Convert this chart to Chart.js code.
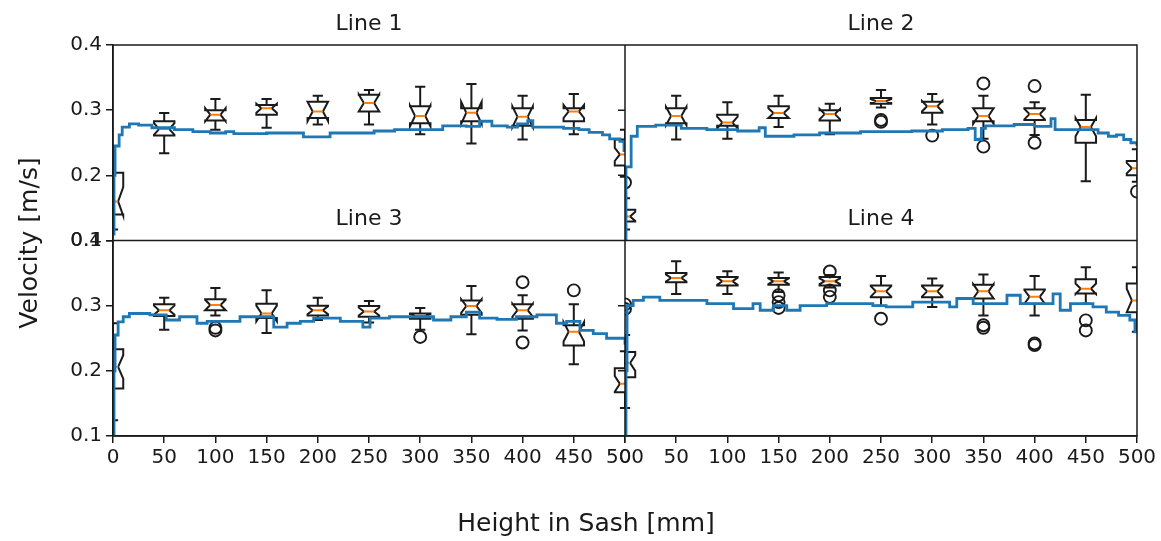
<!DOCTYPE html>
<html>
<head>
<meta charset="utf-8">
<script src="https://cdn.jsdelivr.net/npm/chart.js@4.4.1/dist/chart.umd.min.js"></script>
<style>
  html, body { margin: 0; padding: 0; background: #fff; }
</style>
</head>
<body>
<canvas id="chart" width="1161" height="541"></canvas>
<script>
// tick labels
const xTicks = [0, 50, 100, 150, 200, 250, 300, 350, 400, 450, 500];
const yTicks = [0.1, 0.2, 0.3, 0.4];

// box positions along the sash (mm)
const boxPos = [0, 50, 100, 150, 200, 250, 300, 350, 400, 450, 500];

// box stats per position: [whiskerLo, q1, notchLo, median, notchHi, q3, whiskerHi]
const line1Box = [
  [0.117, 0.140, 0.138, 0.160, 0.182, 0.204, 0.245],
  [0.234, 0.261, 0.262, 0.271, 0.280, 0.283, 0.2955],
  [0.270, 0.284, 0.283, 0.293, 0.303, 0.300, 0.317],
  [0.273, 0.293, 0.296, 0.303, 0.310, 0.308, 0.317],
  [0.278, 0.288, 0.283, 0.298, 0.313, 0.313, 0.322],
  [0.278, 0.298, 0.298, 0.311, 0.324, 0.3235, 0.331],
  [0.263, 0.280, 0.275, 0.291, 0.307, 0.306, 0.336],
  [0.249, 0.283, 0.279, 0.296, 0.313, 0.303, 0.340],
  [0.255, 0.276, 0.274, 0.290, 0.306, 0.303, 0.322],
  [0.263, 0.283, 0.288, 0.298, 0.308, 0.303, 0.325],
  [0.198, 0.215, 0.222, 0.232, 0.242, 0.255, 0.270]
];
const line2Box = [
  [0.117, 0.129, 0.130, 0.137, 0.144, 0.147, 0.165],
  [0.255, 0.280, 0.277, 0.291, 0.305, 0.303, 0.322],
  [0.256, 0.276, 0.272, 0.281, 0.290, 0.293, 0.312],
  [0.274, 0.288, 0.288, 0.2955, 0.303, 0.306, 0.322],
  [0.263, 0.284, 0.286, 0.294, 0.302, 0.300, 0.310],
  [0.304, 0.310, 0.311, 0.314, 0.317, 0.3185, 0.331],
  [0.278, 0.296, 0.298, 0.306, 0.314, 0.313, 0.325],
  [0.256, 0.283, 0.279, 0.291, 0.303, 0.303, 0.322],
  [0.262, 0.285, 0.286, 0.294, 0.302, 0.303, 0.312],
  [0.191, 0.250, 0.260, 0.274, 0.288, 0.285, 0.3235],
  [0.190, 0.200, 0.203, 0.211, 0.219, 0.222, 0.240]
];
const line3Box = [
  [0.124, 0.173, 0.188, 0.206, 0.224, 0.233, 0.273],
  [0.263, 0.284, 0.286, 0.293, 0.300, 0.302, 0.312],
  [0.285, 0.293, 0.293, 0.301, 0.309, 0.310, 0.327],
  [0.258, 0.281, 0.276, 0.288, 0.300, 0.303, 0.3235],
  [0.278, 0.285, 0.287, 0.293, 0.299, 0.300, 0.312],
  [0.274, 0.283, 0.285, 0.291, 0.297, 0.2995, 0.307],
  [0.263, 0.280, 0.281, 0.284, 0.287, 0.288, 0.2965],
  [0.256, 0.286, 0.289, 0.2995, 0.310, 0.308, 0.330],
  [0.262, 0.280, 0.283, 0.293, 0.303, 0.302, 0.316],
  [0.210, 0.239, 0.245, 0.260, 0.275, 0.270, 0.302],
  [0.143, 0.167, 0.168, 0.180, 0.192, 0.204, 0.230]
];
const line4Box = [
  [0.143, 0.190, 0.200, 0.212, 0.224, 0.229, 0.255],
  [0.318, 0.336, 0.337, 0.3425, 0.348, 0.350, 0.368],
  [0.318, 0.331, 0.332, 0.3375, 0.343, 0.344, 0.353],
  [0.321, 0.332, 0.333, 0.3375, 0.342, 0.3425, 0.351],
  [0.328, 0.331, 0.333, 0.3375, 0.342, 0.344, 0.347],
  [0.300, 0.313, 0.314, 0.322, 0.330, 0.331, 0.3455],
  [0.298, 0.313, 0.314, 0.322, 0.330, 0.331, 0.3415],
  [0.285, 0.311, 0.311, 0.322, 0.333, 0.332, 0.348],
  [0.285, 0.303, 0.303, 0.3135, 0.324, 0.325, 0.3455],
  [0.303, 0.3185, 0.318, 0.326, 0.334, 0.3405, 0.359],
  [0.260, 0.290, 0.290, 0.308, 0.326, 0.334, 0.359]
];

// fliers per position
const line1Out = [[], [], [], [], [], [], [], [], [], [], []];
const line2Out = [[0.189], [], [], [], [], [0.285, 0.282], [0.261], [0.341, 0.244], [0.337, 0.250], [], [0.175]];
const line3Out = [[], [], [0.266, 0.262], [], [], [], [0.252], [], [0.336, 0.2435], [0.3235], []];
const line4Out = [[0.302, 0.295], [], [], [0.316, 0.3055, 0.2965], [0.3525, 0.3235, 0.3135], [0.280], [], [0.270, 0.266], [0.242, 0.2395], [0.2775, 0.262], []];

// continuous velocity trace (step breakpoints)
const line1Pos = [0, 1, 2, 6, 9, 16, 25, 38, 60, 78, 95, 110, 118, 150, 186, 212, 255, 275, 322, 345, 358, 370, 385, 395, 405, 410, 440, 455, 465, 478, 485, 495, 499, 500];
const line1Vel = [0.11, 0.20, 0.245, 0.262, 0.274, 0.279, 0.277, 0.273, 0.270, 0.267, 0.265, 0.267, 0.264, 0.265, 0.259, 0.265, 0.268, 0.270, 0.276, 0.275, 0.283, 0.276, 0.274, 0.279, 0.284, 0.274, 0.272, 0.270, 0.266, 0.262, 0.256, 0.252, 0.238, 0.238];

const line2Pos = [0, 1, 6, 12, 30, 55, 80, 110, 131, 137, 165, 190, 230, 280, 310, 335, 342, 348, 352, 380, 400, 416, 420, 450, 462, 472, 480, 487, 494, 500];
const line2Vel = [0.10, 0.213, 0.26, 0.275, 0.277, 0.272, 0.270, 0.268, 0.273, 0.260, 0.262, 0.265, 0.267, 0.268, 0.270, 0.272, 0.255, 0.272, 0.276, 0.278, 0.275, 0.287, 0.270, 0.270, 0.265, 0.260, 0.262, 0.255, 0.250, 0.245];

const line3Pos = [0, 1, 2, 5, 10, 16, 36, 52, 65, 82, 92, 124, 157, 170, 183, 196, 222, 244, 251, 270, 313, 330, 345, 358, 375, 394, 414, 433, 443, 456, 469, 482, 492, 500];
const line3Vel = [0.10, 0.20, 0.255, 0.275, 0.283, 0.288, 0.286, 0.278, 0.283, 0.273, 0.276, 0.283, 0.267, 0.273, 0.276, 0.281, 0.276, 0.267, 0.281, 0.283, 0.278, 0.283, 0.290, 0.281, 0.279, 0.283, 0.286, 0.273, 0.276, 0.262, 0.257, 0.250, 0.250, 0.240];

const line4Pos = [0, 1, 2, 8, 18, 34, 80, 106, 125, 132, 145, 158, 171, 197, 242, 255, 281, 317, 324, 340, 373, 386, 418, 425, 435, 457, 470, 482, 493, 498, 500];
const line4Vel = [0.10, 0.20, 0.30, 0.308, 0.313, 0.308, 0.303, 0.2955, 0.303, 0.293, 0.300, 0.293, 0.300, 0.303, 0.300, 0.298, 0.3055, 0.298, 0.311, 0.303, 0.316, 0.303, 0.318, 0.293, 0.303, 0.298, 0.290, 0.285, 0.278, 0.260, 0.260];

const panels = [
  { title: 'Line 1', x: 'xL', y: 'yT', box: line1Box, out: line1Out, pos: line1Pos, vel: line1Vel },
  { title: 'Line 2', x: 'xR', y: 'yT', box: line2Box, out: line2Out, pos: line2Pos, vel: line2Vel },
  { title: 'Line 3', x: 'xL', y: 'yB', box: line3Box, out: line3Out, pos: line3Pos, vel: line3Vel },
  { title: 'Line 4', x: 'xR', y: 'yB', box: line4Box, out: line4Out, pos: line4Pos, vel: line4Vel }
];

const boxWidth = 20; // mm
const ink = '#1a1a1a';
const font = 'DejaVu Sans';
const tickFont = { family: font, size: 20 };

function panelClip(ctx, xs, ys) {
  ctx.save();
  ctx.beginPath();
  ctx.rect(xs.left, ys.top, xs.right - xs.left, ys.bottom - ys.top);
  ctx.clip();
}

function drawBox(ctx, xs, ys, pos, b, fliers) {
  const [lo, q1, nLo, med, nHi, q3, hi] = b;
  const cx = xs.getPixelForValue(pos);
  const half = xs.getPixelForValue(pos + boxWidth / 2) - cx;
  const L = cx - half, R = cx + half, cl = cx - half / 2, cr = cx + half / 2;
  const Y = v => ys.getPixelForValue(v);

  ctx.strokeStyle = ink;
  ctx.lineWidth = 2;
  ctx.lineJoin = 'miter';
  ctx.beginPath();
  ctx.moveTo(L, Y(q1));
  ctx.lineTo(R, Y(q1));
  ctx.lineTo(R, Y(nLo));
  ctx.lineTo(cr, Y(med));
  ctx.lineTo(R, Y(nHi));
  ctx.lineTo(R, Y(q3));
  ctx.lineTo(L, Y(q3));
  ctx.lineTo(L, Y(nHi));
  ctx.lineTo(cl, Y(med));
  ctx.lineTo(L, Y(nLo));
  ctx.closePath();
  ctx.stroke();

  // whiskers + caps
  ctx.beginPath();
  ctx.moveTo(cx, Y(q1)); ctx.lineTo(cx, Y(lo));
  ctx.moveTo(cx, Y(q3)); ctx.lineTo(cx, Y(hi));
  ctx.moveTo(cl, Y(lo)); ctx.lineTo(cr, Y(lo));
  ctx.moveTo(cl, Y(hi)); ctx.lineTo(cr, Y(hi));
  ctx.stroke();

  // median
  ctx.strokeStyle = '#ff7f0e';
  ctx.lineWidth = 2;
  ctx.beginPath();
  ctx.moveTo(cl, Y(med)); ctx.lineTo(cr, Y(med));
  ctx.stroke();

  // fliers
  ctx.strokeStyle = ink;
  ctx.lineWidth = 1.9;
  fliers.forEach(v => {
    ctx.beginPath();
    ctx.arc(cx, Y(v), 6, 0, Math.PI * 2);
    ctx.stroke();
  });
}

const boxPlugin = {
  id: 'boxes',
  beforeDatasetsDraw(chart) {
    const ctx = chart.ctx;
    panels.forEach(p => {
      const xs = chart.scales[p.x], ys = chart.scales[p.y];
      panelClip(ctx, xs, ys);
      boxPos.forEach((pos, i) => drawBox(ctx, xs, ys, pos, p.box[i], p.out[i]));
      ctx.restore();
    });
  },
  beforeDatasetDraw(chart, args) {
    panelClip(chart.ctx, args.meta.xScale, args.meta.yScale);
  },
  afterDatasetDraw(chart) {
    chart.ctx.restore();
  },
  afterDatasetsDraw(chart) {
    const ctx = chart.ctx;
    const { xL, xR, yT, yB } = chart.scales;
    ctx.save();
    ctx.strokeStyle = ink;
    ctx.lineWidth = 1.5;
    ctx.beginPath();
    ctx.rect(xL.left, yT.top, xR.right - xL.left, yB.bottom - yT.top);
    ctx.moveTo(xL.right, yT.top); ctx.lineTo(xL.right, yB.bottom);
    ctx.moveTo(xL.left, yT.bottom); ctx.lineTo(xR.right, yT.bottom);
    // y ticks of the right column sit on the shared spine
    [yT, yB].forEach(ys => yTicks.forEach(v => {
      const y = ys.getPixelForValue(v);
      ctx.moveTo(xR.left - 7, y); ctx.lineTo(xR.left, y);
    }));
    ctx.stroke();
    ctx.restore();
  },
  afterDraw(chart) {
    const ctx = chart.ctx;
    ctx.save();
    ctx.fillStyle = ink;
    ctx.textAlign = 'center';
    ctx.textBaseline = 'middle';
    ctx.font = `22px "${font}"`;
    panels.forEach(p => {
      const xs = chart.scales[p.x], ys = chart.scales[p.y];
      ctx.fillText(p.title, (xs.left + xs.right) / 2, ys.top - 21);
    });
    ctx.font = `25px "${font}"`;
    ctx.fillText('Height in Sash [mm]', 586, 524);
    ctx.translate(30, 243);
    ctx.rotate(-Math.PI / 2);
    ctx.fillText('Velocity [m/s]', 0, 0);
    ctx.restore();
  }
};

function xAxis() {
  return {
    type: 'linear', axis: 'x', position: 'bottom', stack: 'sash', stackWeight: 1,
    min: 0, max: 500,
    afterBuildTicks: s => { s.ticks = xTicks.map(v => ({ value: v })); },
    afterFit: s => { s.height = 105; },
    ticks: { font: tickFont, color: ink, padding: 3, maxRotation: 0, autoSkip: false, callback: v => String(v) },
    grid: { drawOnChartArea: false, drawTicks: true, tickLength: 7, color: ink, lineWidth: 1.5 },
    border: { display: true, color: ink, width: 1.5 }
  };
}

function yAxis() {
  return {
    type: 'linear', axis: 'y', position: 'left', stack: 'vel', stackWeight: 1,
    min: 0.1, max: 0.4,
    afterBuildTicks: s => { s.ticks = yTicks.map(v => ({ value: v })); },
    afterFit: s => { s.width = 113; },
    ticks: { font: tickFont, color: ink, padding: 4, autoSkip: false, callback: v => v.toFixed(1) },
    grid: { drawOnChartArea: false, drawTicks: true, tickLength: 7, color: ink, lineWidth: 1.5 },
    border: { display: true, color: ink, width: 1.5 }
  };
}

new Chart(document.getElementById('chart'), {
  type: 'line',
  data: {
    datasets: panels.map(p => ({
      label: p.title,
      data: p.pos.map((x, i) => ({ x: x, y: p.vel[i] })),
      xAxisID: p.x,
      yAxisID: p.y,
      stepped: true,
      borderColor: '#1f77b4',
      borderWidth: 2.8,
      pointRadius: 0,
      fill: false
    }))
  },
  options: {
    responsive: false,
    animation: false,
    devicePixelRatio: 1,
    layout: { padding: { left: 0, top: 45, right: 24, bottom: 0 } },
    plugins: { legend: { display: false }, tooltip: { enabled: false } },
    scales: {
      xL: xAxis(),
      xR: xAxis(),
      yB: yAxis(),
      yT: yAxis()
    }
  },
  plugins: [boxPlugin]
});
</script>
</body>
</html>
